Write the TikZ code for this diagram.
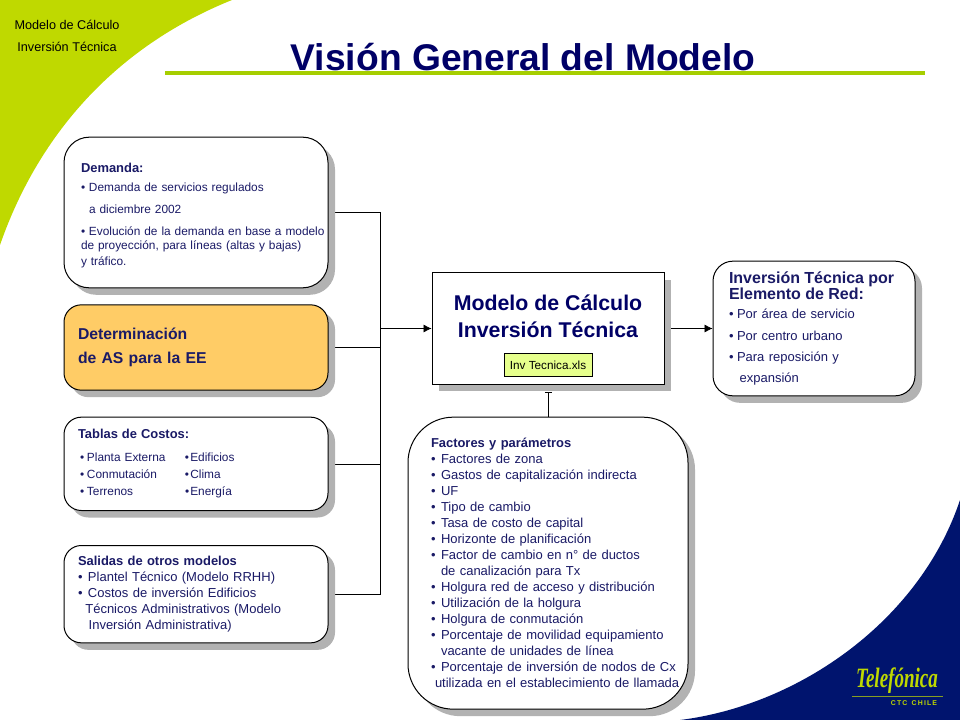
\documentclass[tikz,border=0pt]{standalone}
\usepackage{xcolor}
\usepackage{fontspec}
\setmainfont{Liberation Sans}
\newfontfamily\logofont{Liberation Serif}
\usetikzlibrary{positioning,arrows.meta,shadows,backgrounds}

\definecolor{limegreen}{HTML}{BFD900}
\definecolor{rulegreen}{HTML}{A6CE00}
\definecolor{deepblue}{HTML}{00146E}
\definecolor{titleblue}{HTML}{000066}
\definecolor{bodyblue}{HTML}{1A1A66}
\definecolor{shadowgray}{HTML}{B2B2B2}
\definecolor{peach}{HTML}{FFCC66}
\definecolor{filetag}{HTML}{E6FF8C}

\newcommand{\punto}[1][6pt]{\makebox[#1][l]{•}}
\newcommand{\head}[1]{{\bfseries\fontsize{9.7}{12}\selectfont #1}}

\begin{document}
\begin{tikzpicture}[
    x=0.75pt,
    y=-0.75pt,
    node distance=12pt,
    line width=.75pt,
    panel/.style={
        rectangle,
        rounded corners=15pt,
        draw=black,
        fill=white,
        align=left,
        text=bodyblue,
        font=\fontsize{8.9}{12}\selectfont,
        drop shadow={shadow xshift=5.25pt, shadow yshift=-5.25pt, fill=shadowgray, opacity=1}
    },
    sidepanel/.style={
        panel,
        minimum height=#1,
        text width=177pt,
        inner xsep=10.5pt,
        rounded corners=13pt
    },
    arrow/.style={
        -{Latex[length=6pt,width=6pt]},
        black
    },
    link/.style={
        black
    }
]
\useasboundingbox (0,0) rectangle (960,720);

% top
\node[text=titleblue, font=\bfseries\fontsize{27.9}{30}\selectfont] (title) at (523,57) {Visión General del Modelo};
\node[align=center, font=\fontsize{9.5}{16.5}\selectfont] (section) at (67,36) {Modelo de Cálculo\\Inversión Técnica};
\coordinate (ruleleft) at (165,73);
\coordinate (ruleright) at (925,73);
\draw[rulegreen, line width=2.4pt] (ruleleft) -- (ruleright);

% left column
\node[sidepanel=113pt, rounded corners=19pt] (demanda) at (196,212.5)
{\rule{0pt}{11.5pt}\hspace*{2.25pt}\head{Demanda:}\\[2.6pt]
\hspace*{2.25pt}\punto Demanda de servicios regulados\\[4.5pt]
\hspace*{8.25pt}a diciembre 2002\\[4.5pt]
\mbox{\hspace*{2.25pt}\punto Evolución de la demanda en base a modelo}\\[-1.5pt]
\hspace*{2.25pt}de proyección, para líneas (altas y bajas)\\[0pt]
\hspace*{2.25pt}y tráfico.};

\node[sidepanel=64pt, below=12pt of demanda, fill=peach, font=\bfseries\fontsize{11.8}{18.5}\selectfont] (determinacion)
{Determinación\\de AS para la EE\\[3.5pt]};

\node[sidepanel=70pt, below=19.5pt of determinacion] (tablas)
{\head{Tablas de Costos:}\\[5pt]
\hspace*{1.5pt}\makebox[78.75pt][l]{\punto[5.25pt]Planta Externa}\punto[4pt]Edificios\\[.75pt]
\hspace*{1.5pt}\makebox[78.75pt][l]{\punto[5.25pt]Conmutación}\punto[4pt]Clima\\[.75pt]
\hspace*{1.5pt}\makebox[78.75pt][l]{\punto[5.25pt]Terrenos}\punto[4pt]Energía\\[12pt]};

\node[sidepanel=73pt, below=25.5pt of tablas, font=\fontsize{9.75}{12}\selectfont] (salidas)
{\head{Salidas de otros modelos}\\
\punto[7.5pt]Plantel Técnico (Modelo RRHH)\\
\punto[7.5pt]Costos de inversión Edificios\\
\hspace*{5.5pt}Técnicos Administrativos (Modelo\\
\hspace*{8pt}Inversión Administrativa)\\[3.5pt]};

% centre
\node[panel, rectangle, sharp corners, minimum width=174pt, minimum height=83.5pt, align=center, text=titleblue, font=\bfseries\fontsize{16}{20}\selectfont] (modelo) at (548,328.5)
{Modelo de Cálculo\\Inversión Técnica\\[-1.2pt]\mbox{}};
\node[draw=black, fill=filetag, above=6pt of modelo.south, inner sep=2pt, minimum width=66pt, minimum height=17pt, font=\fontsize{8.8}{10}\selectfont] (archivo) {Inv Tecnica.xls};

\node[panel, rounded corners=34pt, below=24pt of modelo, text width=175.5pt, inner xsep=17.25pt, minimum height=219pt, font=\fontsize{9.75}{12}\selectfont] (factores)
{\head{Factores y parámetros}\\
\punto[7.5pt]Factores de zona\\
\punto[7.5pt]Gastos de capitalización indirecta\\
\punto[7.5pt]UF\\
\punto[7.5pt]Tipo de cambio\\
\punto[7.5pt]Tasa de costo de capital\\
\punto[7.5pt]Horizonte de planificación\\
\punto[7.5pt]Factor de cambio en n° de ductos\\
\hspace*{7.5pt}de canalización para Tx\\
\mbox{\punto[7.5pt]Holgura red de acceso y distribución}\\
\punto[7.5pt]Utilización de la holgura\\
\punto[7.5pt]Holgura de conmutación\\
\mbox{\punto[7.5pt]Porcentaje de movilidad equipamiento}\\
\hspace*{7.5pt}vacante de unidades de línea\\
\mbox{\punto[7.5pt]Porcentaje de inversión de nodos de Cx}\\
\mbox{\hspace*{3pt}utilizada en el establecimiento de llamada}};

% right
\node[panel, rounded corners=15pt, right=36pt of modelo, text width=127.5pt, inner xsep=12pt, minimum height=101pt, font=\fontsize{9.75}{12}\selectfont] (inversion)
{{\bfseries\fontsize{12}{14.5}\selectfont Inversión Técnica por\\Elemento de Red:}\\[2.5pt]
\punto Por área de servicio\\[4pt]
\punto Por centro urbano\\[4pt]
\punto Para reposición y\\[4pt]
\hspace*{8pt}expansión};

% logo
\node[text=limegreen, font=\logofont\itshape\bfseries\fontsize{21}{22}\selectfont] (logo) at (897,681) {\scalebox{.68}[1]{Telefónica}};
\node[text=limegreen, font=\bfseries\fontsize{5.2}{6}\selectfont] (pais) at (914,703) {C\,T\,C\, \,C\,H\,I\,L\,E};

% background and connectors
\coordinate (busjoin) at (380,328.5);
\coordinate (detjoin) at (380,348);
\coordinate (factop) at (548,392);
\coordinate (logoleft) at (852,696);
\coordinate (logoright) at (943,696);
\begin{scope}[on background layer]
\fill[limegreen] (0,0) -- (232,0) .. controls (120,45) and (40,130) .. (0,245) -- cycle;
\fill[deepblue] (680,720) .. controls (800,705) and (920,620) .. (960,500) -- (960,720) -- cycle;
\draw[link] (demanda.east) -| (busjoin);
\draw[link] (salidas.east) -| (busjoin);
\draw[link] (tablas.east) -| (busjoin);
\draw[link] (determinacion.east) -- (determinacion.east -| detjoin);
\draw[arrow] (busjoin) -- (modelo.west);
\draw[arrow] (modelo.east) -- (inversion.west);
\draw[link, {Bar[width=5pt,length=.5pt]}-] (factop) -- (factores.north);
\end{scope}
\draw[limegreen!70!deepblue, line width=.5pt] (logoleft) -- (logoright);

\end{tikzpicture}
\end{document}
